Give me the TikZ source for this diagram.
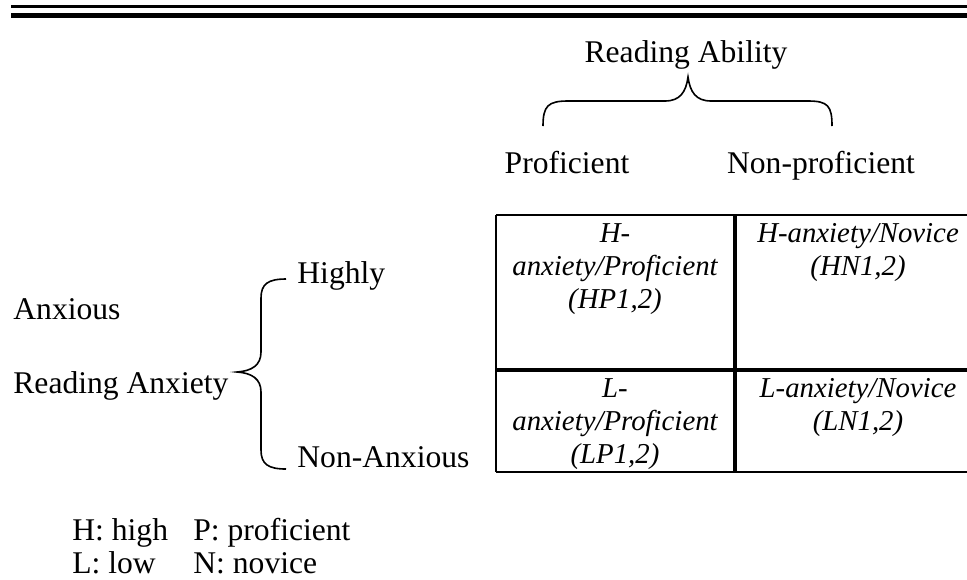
\documentclass[tikz,border=0pt]{standalone}
\usepackage{fontspec}
\setmainfont{Liberation Serif}
\tikzset{
  lbl/.style={inner sep=0pt, font=\fontsize{15.8}{16.5}\selectfont},
  cell/.style={lbl, align=center, anchor=north, font=\fontsize{14.4}{16.5}\selectfont\itshape},
}
\begin{document}
\begin{tikzpicture}[x=0.5pt,y=-0.5pt]
  \useasboundingbox (0,0) rectangle (967,579);
  % double rule at top
  \draw[line width=1.5pt] (11,6.5) -- (967,6.5);
  \draw[line width=2.75pt] (11,15.5) -- (967,15.5);
  % reading ability
  \node[lbl, anchor=base] (ability) at (686,62) {Reading Ability};
  \draw[line width=0.8pt] (543,126) .. controls (543,106) and (548,101) .. (568,101) -- (665,101)
    .. controls (680,101) and (686,92) .. (688,77) .. controls (690,92) and (696,101) .. (711,101)
    -- (808,101) .. controls (828,101) and (832,106) .. (832,126);
  \node[lbl, anchor=base] (prof) at (567,173) {Proficient};
  \node[lbl, anchor=base] (nonprof) at (821,173) {Non-proficient};
  % table
  \draw[line width=1.35pt] (496,215) -- (967,215);
  \draw[line width=2pt] (496,370) -- (967,370);
  \draw[line width=1pt] (496,472) -- (967,472);
  \draw[line width=1.15pt] (496,215) -- (496,472);
  \draw[line width=1.65pt] (735,215) -- (735,472);
  \node[cell] (hp) at (615,223) {H-\\anxiety/Proficient\\(HP1,2)};
  \node[cell] (hn) at (858,223) {H-anxiety/Novice\\(HN1,2)};
  \node[cell] (lp) at (615,378) {L-\\anxiety/Proficient\\(LP1,2)};
  \node[cell] (ln) at (858,378) {L-anxiety/Novice\\(LN1,2)};
  % reading anxiety
  \node[lbl, anchor=base west] (anx) at (13,319) {Anxious};
  \node[lbl, anchor=base west] (ranx) at (13,393) {Reading Anxiety};
  \draw[line width=0.8pt] (286,279) .. controls (268,279) and (261,284) .. (261,298) -- (261,352)
    .. controls (261,365) and (252,371) .. (237,372) .. controls (252,373) and (261,379) .. (261,392)
    -- (261,450) .. controls (261,464) and (268,469) .. (286,469);
  \node[lbl, anchor=base west] (high) at (297,283) {Highly};
  \node[lbl, anchor=base west] (nonanx) at (297,467) {Non-Anxious};
  % legend
  \node[lbl, anchor=base west] (kh) at (72,540) {H: high};
  \node[lbl, anchor=base west] (kp) at (193,540) {P: proficient};
  \node[lbl, anchor=base west] (kl) at (72,573) {L: low};
  \node[lbl, anchor=base west] (kn) at (193,573) {N: novice};
\end{tikzpicture}
\end{document}
